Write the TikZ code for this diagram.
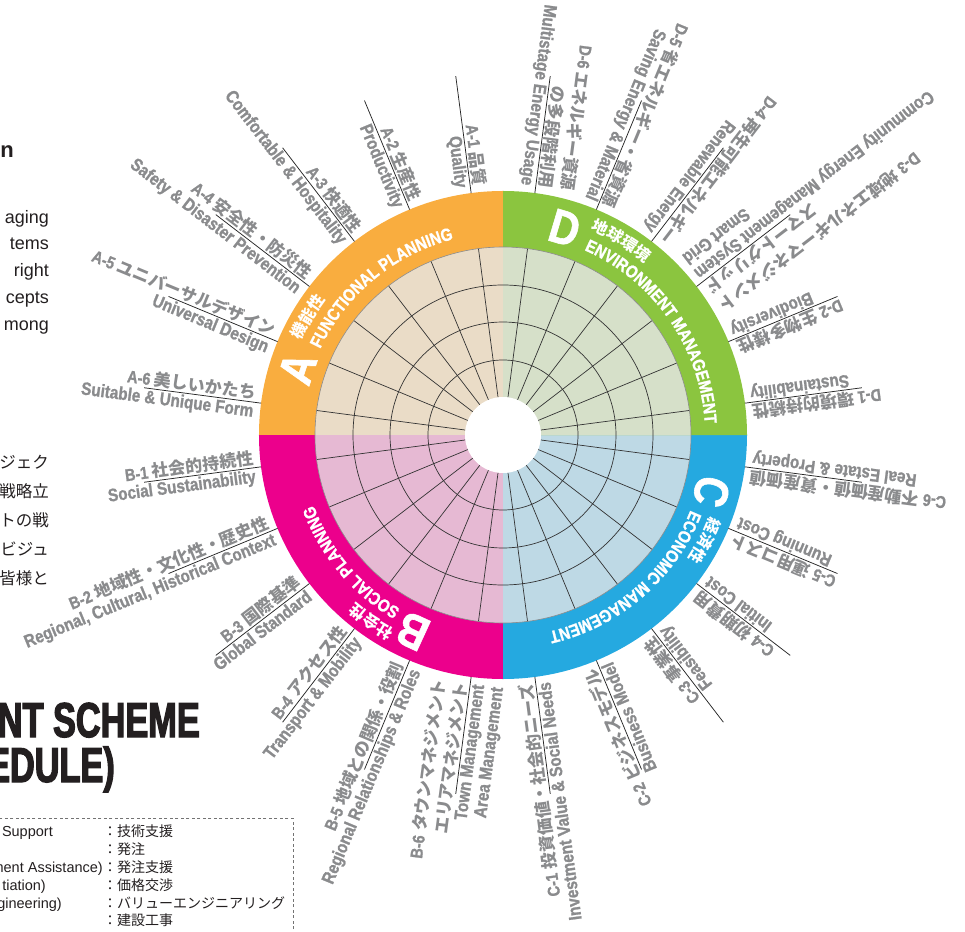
\documentclass[tikz,border=0pt]{standalone}
\usepackage{fontspec}
\usetikzlibrary{decorations.text}

\setmainfont{Liberation Sans}
\newfontfamily\condfont[FakeStretch=0.85,FakeBold=1.2]{Liberation Sans Bold}
\newfontfamily\titlefont[FakeStretch=0.7,FakeBold=2.5]{Liberation Sans Bold}
\newfontfamily\jpfont{Noto Sans CJK JP}

\definecolor{funcA}{HTML}{F9AD3F}
\definecolor{socB}{HTML}{EC008C}
\definecolor{ecoC}{HTML}{25A9E0}
\definecolor{envD}{HTML}{8BC53F}
\definecolor{funcApale}{HTML}{EADCC7}
\definecolor{socBpale}{HTML}{E6B9D3}
\definecolor{ecoCpale}{HTML}{BED9E5}
\definecolor{envDpale}{HTML}{D6E0C9}
\definecolor{labgray}{HTML}{8A8B8D}
\definecolor{ink}{HTML}{231F20}

% fonts for the curved band titles
\newcommand\bandjp{\jpfont\bfseries\fontsize{16}{16}\selectfont}
\newcommand\banden{\condfont\fontsize{17.5}{17.5}\selectfont}

\tikzset{
  gridline/.style={draw=black!80, line width=0.7},
  leader/.style={draw=black!85, line width=0.75},
  jplabel/.style={anchor=south east, inner sep=1.5, align=right, text=labgray,
    font=\jpfont\bfseries\fontsize{17}{22}\selectfont},
  enlabel/.style={anchor=north east, inner sep=1.5, align=right, text=labgray,
    font=\condfont\fontsize{18}{19}\selectfont},
  bigletter/.style={inner sep=0, text=white,
    font=\condfont\fontsize{48}{48}\selectfont},
  bandtext/.style={decorate, decoration={text along path, text color=white, text={#1}}},
  bodytext/.style={anchor=base east, inner sep=0, text=ink, font=\fontsize{18}{18}\selectfont},
  bodyjp/.style={anchor=base east, inner sep=0, text=ink, font=\jpfont\fontsize{16.5}{16.5}\selectfont},
  boxtext/.style={anchor=base east, inner sep=0, text=ink, font=\fontsize{14.5}{14.5}\selectfont},
  boxjp/.style={anchor=base west, inner sep=0, text=ink, font=\jpfont\fontsize{14}{14}\selectfont},
}

\begin{document}
\begin{tikzpicture}[x=1pt,y=1pt]
\useasboundingbox (-503,-496) rectangle (462,435);
\clip (-503,-496) rectangle (462,435);

% coloured bands and pale inner sectors
\foreach \a/\band/\pale in {90/funcA/funcApale,180/socB/socBpale,270/ecoC/ecoCpale,0/envD/envDpale}{
  \fill[\band] (0,0) -- (\a:244) arc[start angle=\a,end angle=\a+90,radius=244] -- cycle;
  \fill[\pale] (0,0) -- (\a:188) arc[start angle=\a,end angle=\a+90,radius=188] -- cycle;
}

% web
\foreach \k in {0,...,23}
  \draw[gridline] (7.5+15*\k:38) -- (7.5+15*\k:188);
\foreach \r in {75,113,150}
  \draw[gridline] (0,0) circle[radius=\r];
\draw[line width=0.6, black!45] (0,0) circle[radius=188];
\node[circle, fill=white, inner sep=0, minimum size=76] (hub) at (0,0) {};

% band titles
\node[bigletter, rotate=72] (letA) at (162:216) {A};
\path[bandtext={|\bandjp|機能性}] (155:223) arc[start angle=155,end angle=80,radius=223];
\path[bandtext={|\banden|FUNCTIONAL PLANNING}] (154.8:202) arc[start angle=154.8,end angle=60,radius=202];

\node[bigletter, rotate=155.3] (letB) at (245.3:216) {B};
\path[bandtext={|\bandjp|社会性}] (241:223) arc[start angle=241,end angle=170,radius=223];
\path[bandtext={|\banden|SOCIAL PLANNING}] (239.5:202) arc[start angle=239.5,end angle=150,radius=202];

\node[bigletter, rotate=-105.2] (letC) at (-15.2:216) {C};
\path[bandtext={|\bandjp|経済性}] (-21.5:223) arc[start angle=-21.5,end angle=-100,radius=223];
\path[bandtext={|\banden|ECONOMIC MANAGEMENT}] (-21.8:202) arc[start angle=-21.8,end angle=-120,radius=202];

\node[bigletter, rotate=-16.6] (letD) at (73.4:216) {D};
\path[bandtext={|\bandjp|地球環境}] (66.8:223) arc[start angle=66.8,end angle=-10,radius=223];
\path[bandtext={|\banden|ENVIRONMENT MANAGEMENT}] (66.3:202) arc[start angle=66.3,end angle=-20,radius=202];

% items round the wheel
\foreach \ang/\n/\num/\jp/\en in {
  97.5/a1/A-1/{品質}/{Quality},
  112.5/a2/A-2/{生産性}/{Productivity},
  127.5/a3/A-3/{快適性}/{Comfortable \& Hospitality},
  142.5/a4/A-4/{安全性・防災性}/{Safety \& Disaster Prevention},
  157.5/a5/A-5/{ユニバーサルデザイン}/{Universal Design},
  172.5/a6/A-6/{美しいかたち}/{Suitable \& Unique Form},
  187.5/b1/B-1/{社会的持続性}/{Social Sustainability},
  202.5/b2/B-2/{地域性・文化性・歴史性}/{Regional, Cultural, Historical Context},
  217.5/b3/B-3/{国際基準}/{Global Standard},
  232.5/b4/B-4/{アクセス性}/{Transport \& Mobility},
  247.5/b5/B-5/{地域との関係・役割}/{Regional Relationships \& Roles},
  262.5/b6/B-6/{タウンマネジメント\\エリアマネジメント}/{Town Management\\Area Management},
  277.5/c1/C-1/{投資価値・社会的ニーズ}/{Investment Value \& Social Needs},
  292.5/c2/C-2/{ビジネスモデル}/{Business Model},
  307.5/c3/C-3/{事業性}/{Feasibility},
  322.5/c4/C-4/{初期費用}/{Initial Cost},
  337.5/c5/C-5/{運用コスト}/{Running Cost},
  352.5/c6/C-6/{不動産価値・資産価値}/{Real Estate \& Property},
  7.5/d1/D-1/{環境的持続性}/{Sustainability},
  22.5/d2/D-2/{生物多様性}/{Biodiversity},
  37.5/d3/D-3/{地域エネルギーマネジメント\\スマートグリッド}/{Community Energy Management System\\Smart Grid},
  52.5/d4/D-4/{再生可能エネルギー}/{Renewable Energy},
  67.5/d5/D-5/{省エネルギー・省資源}/{Saving Energy \& Material},
  82.5/d6/D-6/{エネルギー資源\\の多段階利用}/{Multistage Energy Usage}}{
  \coordinate (\n-in) at (\ang:244);
  \coordinate (\n-out) at (\ang:362);
  \draw[leader] (\n-in) -- (\n-out);
  \node[jplabel, rotate=\ang+180] (\n-jp) at (\ang:249) {{\condfont\num\ }\jp};
  \node[enlabel, rotate=\ang+180] (\n-en) at (\ang:249) {\en};
}

% page text beside the wheel
\node[anchor=base east, inner sep=0, text=ink, font=\bfseries\fontsize{22}{22}\selectfont] (head) at (-489,277) {n};
\foreach \y/\t [count=\i] in {211/aging,185/tems,158/right,131/cepts,104/mong}
  \node[bodytext] (body\i) at (-454,\y) {\t};
\foreach \y/\t [count=\i] in {-33/ジェク,-62/戦略立,-91/トの戦,-120/ビジュ,-149/皆様と}
  \node[bodyjp] (bodyjp\i) at (-454,\y) {\t};

\node[anchor=base east, inner sep=0, text=ink, font=\titlefont\fontsize{49}{49}\selectfont] (title1) at (-303,-302) {NT SCHEME};
\node[anchor=base east, inner sep=0, text=ink, font=\titlefont\fontsize{49}{49}\selectfont] (title2) at (-388,-347) {EDULE)};

% legend box
\draw[black!55, line width=0.7, dash pattern=on 3pt off 2.5pt] (-520,-383) rectangle (-210,-520);
\node[boxtext] (lg1) at (-450,-401) {Support};
\node[boxtext] (lg3) at (-400,-437) {ment Assistance)};
\node[boxtext] (lg4) at (-457,-455) {tiation)};
\node[boxtext] (lg5) at (-441,-473) {gineering)};
\foreach \y/\t [count=\i] in {-401/技術支援,-419/発注,-437/発注支援,-455/価格交渉,-473/バリューエンジニアリング,-490/建設工事}
  \node[boxjp] (lgjp\i) at (-400,\y) {：\t};
\end{tikzpicture}
\end{document}
